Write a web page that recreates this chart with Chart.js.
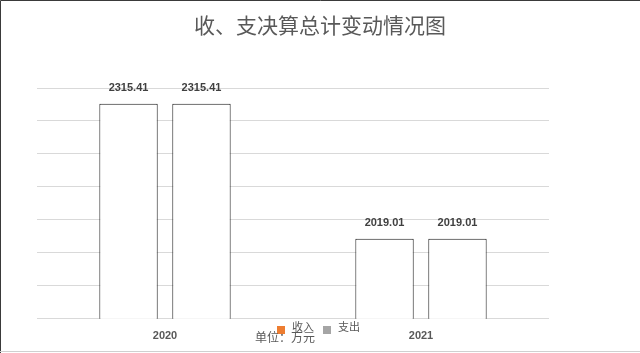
<!DOCTYPE html>
<html>
<head>
<meta charset="utf-8">
<script src="https://cdn.jsdelivr.net/npm/chart.js@4.4.1/dist/chart.umd.min.js"></script>
<style>
  html, body { margin: 0; padding: 0; background: #fff; }
  #wrap { width: 640px; height: 353px; position: relative; }
</style>
</head>
<body>
<div id="wrap"><canvas id="budgetChart"></canvas></div>
<script>
// data
const categories = ['2020', '2021'];
const seriesNames = ['收入', '支出'];
const incomeValues = [2315.41, 2019.01];
const expenseValues = [2315.41, 2019.01];
const legendColors = ['#ED7D31', '#A5A5A5'];
const titleText = '收、支决算总计变动情况图';
const unitText = '单位：万元';

const textColor = '#595959';

// white background, frame, title, value labels, legend and unit note
const decorPlugin = {
    id: 'decor',
    beforeDraw(chart) {
        const ctx = chart.ctx;
        ctx.save();
        ctx.fillStyle = '#ffffff';
        ctx.fillRect(0, 0, chart.width, chart.height);
        ctx.restore();
    },
    afterDraw(chart) {
        const ctx = chart.ctx;
        ctx.save();

        // frame
        ctx.strokeStyle = '#3a3a3a';
        ctx.lineWidth = 1;
        ctx.beginPath();
        ctx.moveTo(0.5, chart.height);
        ctx.lineTo(0.5, 0.5);
        ctx.lineTo(chart.width, 0.5);
        ctx.stroke();
        ctx.strokeStyle = '#d0d0d0';
        ctx.beginPath();
        ctx.moveTo(0, chart.height - 1.5);
        ctx.lineTo(chart.width, chart.height - 1.5);
        ctx.stroke();

        // title
        ctx.fillStyle = textColor;
        ctx.font = '21px "Noto Sans CJK SC"';
        ctx.textAlign = 'center';
        ctx.textBaseline = 'middle';
        ctx.fillText(titleText, 320, 25);

        // value labels above bars
        ctx.fillStyle = '#404040';
        ctx.font = 'bold 11px "Liberation Sans"';
        chart.data.datasets.forEach((ds, i) => {
            chart.getDatasetMeta(i).data.forEach((bar, j) => {
                ctx.fillText(ds.data[j].toFixed(2), bar.x, bar.y - 16);
            });
        });

        // legend
        const legendX = [277, 323];
        seriesNames.forEach((name, i) => {
            ctx.fillStyle = legendColors[i];
            ctx.fillRect(legendX[i], 326, 8, 8);
            ctx.fillStyle = textColor;
            ctx.font = '11px "Noto Sans CJK SC"';
            ctx.textAlign = 'left';
            ctx.fillText(name, legendX[i] + 15, 327);
        });

        // unit
        ctx.fillStyle = textColor;
        ctx.font = '12px "Noto Sans CJK SC"';
        ctx.textAlign = 'left';
        ctx.fillText(unitText, 255, 337);

        ctx.restore();
    }
};

const budgetChart = new Chart(document.getElementById('budgetChart'), {
    type: 'bar',
    data: {
        labels: categories,
        datasets: [
            {
                label: seriesNames[0],
                data: incomeValues,
                backgroundColor: '#ffffff',
                borderColor: '#1a1a1a',
                borderWidth: 1
            },
            {
                label: seriesNames[1],
                data: expenseValues,
                backgroundColor: '#ffffff',
                borderColor: '#1a1a1a',
                borderWidth: 1
            }
        ]
    },
    options: {
        responsive: true,
        maintainAspectRatio: false,
        animation: false,
        layout: {
            padding: { top: 88, left: 37, right: 91, bottom: 7 }
        },
        datasets: {
            bar: { categoryPercentage: 0.57, barPercentage: 0.8 }
        },
        plugins: {
            legend: { display: false },
            title: { display: false },
            tooltip: { enabled: false }
        },
        scales: {
            x: {
                grid: { display: false },
                border: { display: false },
                ticks: {
                    color: textColor,
                    padding: 3,
                    font: { family: 'Liberation Sans', size: 11, weight: 'bold' }
                }
            },
            y: {
                min: 1843,
                max: 2350,
                border: { display: false },
                grid: { color: '#d9d9d9', drawTicks: false },
                ticks: { display: false, count: 8 }
            }
        }
    },
    plugins: [decorPlugin]
});
</script>
</body>
</html>
